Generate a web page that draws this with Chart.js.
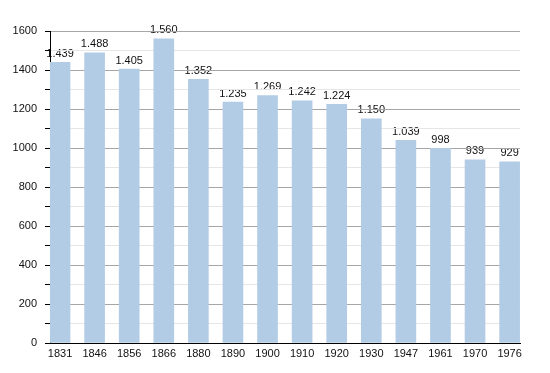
<!DOCTYPE html>
<html>
<head>
<meta charset="utf-8">
<script src="https://cdn.jsdelivr.net/npm/chart.js@4/dist/chart.umd.min.js"></script>
<style>
  html, body { margin: 0; padding: 0; background: #fff; }
  #wrap { width: 550px; height: 373px; }
</style>
</head>
<body>
<div id="wrap"><canvas id="chart"></canvas></div>
<script>
const years = ['1831', '1846', '1856', '1866', '1880', '1890', '1900', '1910', '1920', '1930', '1947', '1961', '1970', '1976'];
const population = [1439, 1488, 1405, 1560, 1352, 1235, 1269, 1242, 1224, 1150, 1039, 998, 939, 929];

// thousands separator with a dot, as in the original
function fmt(v) {
  return String(v).replace(/\B(?=(\d{3})+(?!\d))/g, '.');
}

const valueLabels = {
  id: 'valueLabels',
  beforeDraw(chart) {
    const ctx = chart.ctx;
    const meta = chart.getDatasetMeta(0);
    ctx.save();
    ctx.font = '11px "Liberation Sans", Arial, sans-serif';
    ctx.fillStyle = '#111';
    ctx.textAlign = 'center';
    ctx.textBaseline = 'bottom';
    meta.data.forEach((bar, i) => {
      ctx.fillText(fmt(population[i]), bar.x, bar.y - 3);
    });
    ctx.restore();
  }
};

new Chart(document.getElementById('chart'), {
  type: 'bar',
  data: {
    datasets: [{
      data: population.map((v, i) => ({ x: i, y: v })),
      backgroundColor: '#b3cce6',
      barThickness: 20
    }]
  },
  options: {
    responsive: true,
    maintainAspectRatio: false,
    animation: false,
    layout: { padding: { top: 31, right: 30, bottom: 0, left: 0 } },
    plugins: { legend: { display: false }, tooltip: { enabled: false } },
    scales: {
      x: {
        type: 'linear',
        offset: false,
        min: -0.29,
        max: 13.3,
        grid: { display: false, offset: false },
        border: { display: true, color: '#000', width: 1 },
        ticks: {
          stepSize: 1,
          includeBounds: false,
          autoSkip: false,
          maxRotation: 0,
          padding: -4,
          color: '#111',
          font: { family: '"Liberation Sans", Arial, sans-serif', size: 11 },
          callback: v => Number.isInteger(v) ? years[v] : ''
        },
        afterFit(scale) { scale.height = 30; }
      },
      y: {
        min: 0,
        max: 1600,
        grid: {
          color: c => (c.tick && c.tick.value % 200 === 0) ? '#a6a6a6' : '#e6e6e6',
          tickColor: '#000',
          tickLength: 5
        },
        border: { display: true, color: '#000', width: 1 },
        ticks: {
          stepSize: 100,
          autoSkip: false,
          padding: 8,
          color: '#111',
          font: { family: '"Liberation Sans", Arial, sans-serif', size: 11 },
          callback: v => v % 200 === 0 ? v : ''
        },
        afterFit(scale) { scale.width = 50; }
      }
    }
  },
  plugins: [valueLabels]
});
</script>
</body>
</html>
